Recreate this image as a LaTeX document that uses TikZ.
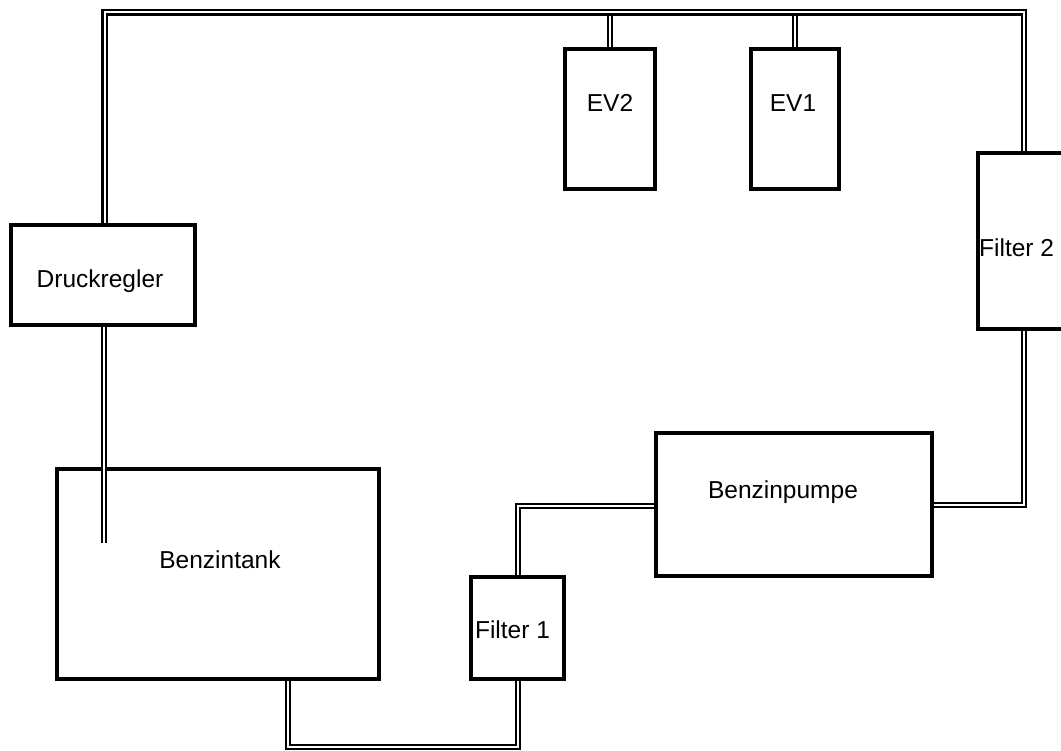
\documentclass[tikz,border=0pt]{standalone}
\usepackage{fontspec}
\setmainfont{Liberation Sans}
\begin{document}
\begin{tikzpicture}[x=1pt,y=-1pt,
  box/.style={draw=black,line width=4.2pt,rectangle,inner sep=0pt,fill=none},
  pipe/.style={draw=black,line width=2.4pt,double=white,double distance=2pt,line join=miter},
  lbl/.style={inner sep=0pt,anchor=base,font=\fontsize{24.5}{29}\selectfont}]
\useasboundingbox (0,0) rectangle (1061,751);
\clip (0,0) rectangle (1061,751);
% boxes
\node[box,minimum width=90pt,minimum height=140pt] (ev2) at (610,119) {};
\node[box,minimum width=88pt,minimum height=140pt] (ev1) at (795,119) {};
\node[box,minimum width=92pt,minimum height=176pt] (f2) at (1024,241) {};
\node[box,minimum width=184pt,minimum height=100pt] (dr) at (103,275) {};
\node[box,minimum width=322pt,minimum height=210pt] (tank) at (218,574) {};
\node[box,minimum width=93pt,minimum height=102pt] (f1) at (517.5,628) {};
\node[box,minimum width=276pt,minimum height=143pt] (bp) at (794,504.5) {};
% labels
\node[lbl] (tev2) at (610,112) {EV2};
\node[lbl] (tev1) at (793,112) {EV1};
\node[lbl,anchor=base west] (tf2) at (979,257) {Filter 2};
\node[lbl] (tdr) at (100,288) {Druckregler};
\node[lbl] (ttank) at (220,568) {Benzintank};
\node[lbl] (tbp) at (783,498) {Benzinpumpe};
\node[lbl] (tf1) at (512.5,638) {Filter 1};
% pipe corners
\coordinate (tl) at (104.5,12.5);
\coordinate (tr) at (1024,12.5);
\coordinate (tp) at (104,543);
\coordinate (b1) at (288,747);
\coordinate (b2) at (518,747);
\coordinate (c1) at (518,506);
\coordinate (c2) at (1024,505);
% branches to EVs
\draw[pipe] (ev2.north) -- (ev2.north |- tl);
\draw[pipe] (ev1.north) -- (ev1.north |- tl);
% main loop
\draw[pipe] (tl |- dr.north) -- (tl) -- (tr) -- (f2.north);
\draw[pipe] (dr.south -| tp) -- (tp);
\draw[pipe] (b1 |- tank.south) -- (b1) -- (b2) -- (b2 |- f1.south);
\draw[pipe] (c1 |- f1.north) -- (c1) -- (c1 -| bp.west);
\draw[pipe] (bp.east |- c2) -- (c2) -- (f2.south);
\end{tikzpicture}
\end{document}
